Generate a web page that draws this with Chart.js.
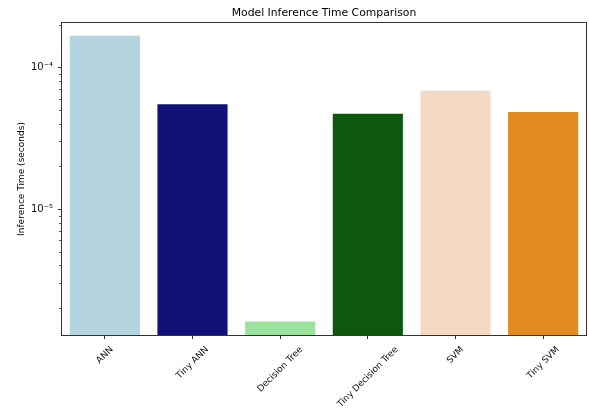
<!DOCTYPE html>
<html>
<head>
<meta charset="utf-8">
<script src="https://cdn.jsdelivr.net/npm/chart.js@4"></script>
<style>
  body { margin: 0; background: #fff; }
</style>
</head>
<body>
<canvas id="chart" width="589" height="410"></canvas>
<script>
// data
const models = ["ANN", "Tiny ANN", "Decision Tree", "Tiny Decision Tree", "SVM", "Tiny SVM"];
const inferenceTimes = [1.67e-4, 5.5e-5, 1.61e-6, 4.7e-5, 6.85e-5, 4.85e-5];
const barColors = ["#b4d4df", "#111178", "#9ce29c", "#0e570e", "#f6d9c3", "#e08a21"];

// log axis ticks
const majorTicks = [1e-5, 1e-4];
const majorLabels = ["10\u207B\u2075", "10\u207B\u2074"];
const minorTicks = [2e-6, 3e-6, 4e-6, 5e-6, 6e-6, 7e-6, 8e-6, 9e-6,
                    2e-5, 3e-5, 4e-5, 5e-5, 6e-5, 7e-5, 8e-5, 9e-5, 2e-4];
const yMin = 1.27e-6;
const yMax = 2.09e-4;

const FONT = "'DejaVu Sans', sans-serif";

// frame, minor ticks, title and centred rotated x labels (matplotlib style)
const mplBits = {
  id: "mplBits",
  afterDraw(chart) {
    const { ctx, chartArea: a, scales } = chart;
    const x = scales.x, y = scales.y;
    ctx.save();

    // minor ticks on y
    ctx.strokeStyle = "#333";
    ctx.lineWidth = 0.8;
    minorTicks.forEach((v) => {
      const py = Math.round(y.getPixelForValue(v)) + 0.5;
      ctx.beginPath();
      ctx.moveTo(a.left - 2, py);
      ctx.lineTo(a.left, py);
      ctx.stroke();
    });

    // box
    ctx.strokeStyle = "#333";
    ctx.lineWidth = 1;
    ctx.strokeRect(Math.round(a.left) + 0.5, Math.round(a.top) + 0.5,
      Math.round(a.right - a.left) - 1, Math.round(a.bottom - a.top) - 1);

    // title
    ctx.fillStyle = "#000";
    ctx.font = "10.8px " + FONT;
    ctx.textAlign = "center";
    ctx.textBaseline = "middle";
    ctx.fillText("Model Inference Time Comparison", (a.left + a.right) / 2, 13);

    // x labels, rotated 45 deg, centred on tick
    const fs = 9;
    ctx.font = fs + "px " + FONT;
    ctx.fillStyle = "#111";
    models.forEach((m, i) => {
      const px = x.getPixelForTick(i);
      const w = ctx.measureText(m).width;
      const side = (w + fs) * Math.SQRT1_2;
      ctx.save();
      ctx.translate(px, a.bottom + 9 + side / 2);
      ctx.rotate(-Math.PI / 4);
      ctx.fillText(m, 0, 0);
      ctx.restore();
    });

    ctx.restore();
  },
};

new Chart(document.getElementById("chart"), {
  type: "bar",
  data: {
    labels: models,
    datasets: [{
      data: inferenceTimes,
      backgroundColor: barColors,
      borderWidth: 0,
      barPercentage: 0.8,
      categoryPercentage: 1.0,
    }],
  },
  options: {
    responsive: false,
    animation: false,
    devicePixelRatio: 1,
    layout: { padding: { top: 22, right: 2, left: 0, bottom: 0 } },
    plugins: {
      legend: { display: false },
      title: { display: false },
      tooltip: { enabled: false },
    },
    scales: {
      x: {
        grid: {
          offset: false,
          drawOnChartArea: false,
          tickLength: 3,
          color: "#333",
        },
        border: { display: false },
        ticks: { display: false },
        afterFit: (s) => { s.height = 74; },
      },
      y: {
        type: "logarithmic",
        min: yMin,
        max: yMax,
        afterBuildTicks: (s) => { s.ticks = majorTicks.map((v) => ({ value: v })); },
        grid: {
          drawOnChartArea: false,
          tickLength: 3,
          color: "#333",
        },
        border: { display: false },
        ticks: {
          padding: 5,
          color: "#111",
          font: { family: FONT, size: 10 },
          callback: (v, i) => majorLabels[i],
        },
        title: {
          display: true,
          text: "Inference Time (seconds)",
          color: "#000",
          font: { family: FONT, size: 9 },
          padding: { top: 16.5, bottom: 0 },
        },
        afterFit: (s) => { s.width = 61; },
      },
    },
  },
  plugins: [mplBits],
});
</script>
</body>
</html>
